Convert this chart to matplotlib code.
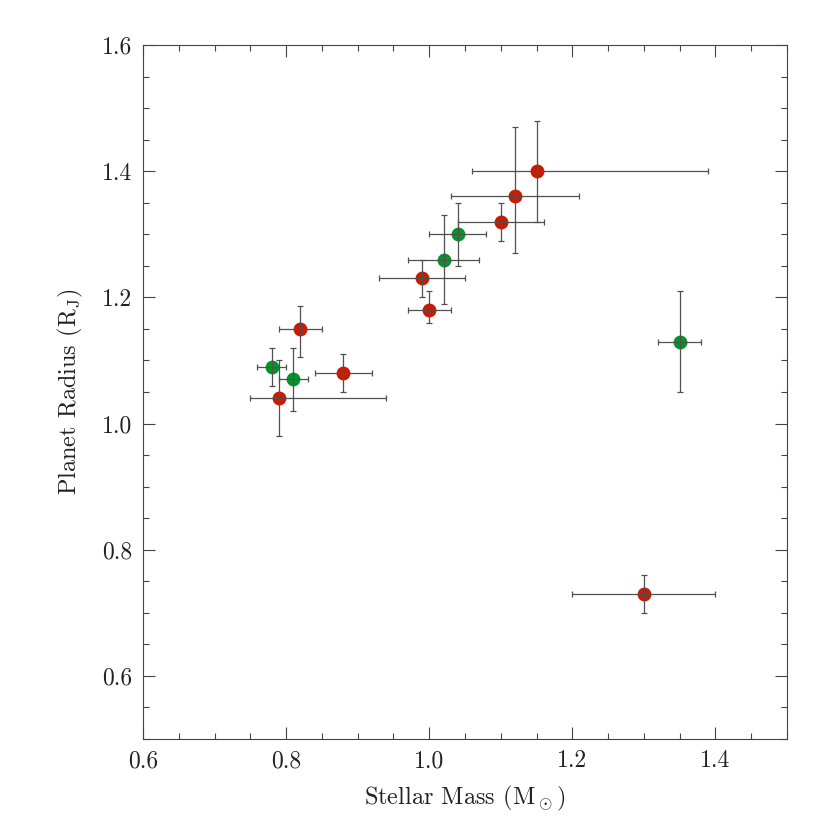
import matplotlib
matplotlib.use("Agg")
import matplotlib.pyplot as plt
from matplotlib.ticker import MultipleLocator

plt.rcParams['font.family'] = ['cmr10', 'DejaVu Serif']
plt.rcParams['mathtext.fontset'] = 'cm'
plt.rcParams['axes.formatter.use_mathtext'] = True
plt.rcParams['axes.unicode_minus'] = False

# Red planets
red_mass = [0.79, 0.82, 0.88, 0.99, 1.00, 1.10, 1.12, 1.15, 1.30]
red_mass_lo = [0.04, 0.03, 0.04, 0.06, 0.03, 0.06, 0.09, 0.09, 0.10]
red_mass_hi = [0.15, 0.03, 0.04, 0.06, 0.03, 0.06, 0.09, 0.24, 0.10]
red_rad = [1.04, 1.15, 1.08, 1.23, 1.18, 1.32, 1.36, 1.40, 0.73]
red_rad_lo = [0.06, 0.045, 0.03, 0.03, 0.02, 0.03, 0.09, 0.08, 0.03]
red_rad_hi = [0.06, 0.037, 0.03, 0.03, 0.03, 0.03, 0.11, 0.08, 0.03]

# Green planets
grn_mass = [0.78, 0.81, 1.02, 1.04, 1.35]
grn_mass_err = [0.02, 0.02, 0.05, 0.04, 0.03]
grn_rad = [1.09, 1.07, 1.26, 1.30, 1.13]
grn_rad_err = [0.03, 0.05, 0.07, 0.05, 0.08]

xticks = [0.6, 0.8, 1.0, 1.2, 1.4]
yticks = [0.6, 0.8, 1.0, 1.2, 1.4, 1.6]

fig = plt.figure(figsize=(8.3, 8.3), dpi=100)
ax = fig.add_axes([0.1723, 0.1096, 0.7759, 0.8362])

red_c = '#CC1A00'
grn_c = '#00952A'
ebc = '#505050'

ax.plot(red_mass, red_rad, 'o', color=red_c, markersize=10, markeredgewidth=0, zorder=2)
ax.plot(grn_mass, grn_rad, 'o', color=grn_c, markersize=10, markeredgewidth=0, zorder=2)
ax.errorbar(red_mass, red_rad, xerr=[red_mass_lo, red_mass_hi], yerr=[red_rad_lo, red_rad_hi],
            fmt='none', ecolor=ebc, elinewidth=0.9, capsize=2.5, capthick=0.9, zorder=3)
ax.errorbar(grn_mass, grn_rad, xerr=grn_mass_err, yerr=grn_rad_err,
            fmt='none', ecolor=ebc, elinewidth=0.9, capsize=2.5, capthick=0.9, zorder=3)

ax.set_xlim(0.6, 1.5)
ax.set_ylim(0.5, 1.6)
ax.set_xticks(xticks)
ax.set_yticks(yticks)
ax.set_xticklabels([f"{v:.1f}" for v in xticks])
ax.set_yticklabels([f"{v:.1f}" for v in yticks])
ax.xaxis.set_minor_locator(MultipleLocator(0.05))
ax.yaxis.set_minor_locator(MultipleLocator(0.05))
ax.tick_params(which='both', direction='in', top=True, right=True, color='#444444', width=0.8)
ax.tick_params(which='major', length=8.5, labelsize=17, pad=8, labelcolor='#222222')
ax.tick_params(which='minor', length=4.3)
for s in ax.spines.values():
    s.set_color('#444444')
    s.set_linewidth(0.8)

ax.set_xlabel(r'Stellar Mass ($\mathrm{M}_\odot$)', fontsize=17.5, color='#222222', labelpad=8)
ax.set_ylabel(r'Planet Radius ($\mathrm{R}_\mathrm{J}$)', fontsize=17.5, color='#222222', labelpad=12)

fig.savefig('out.png', dpi=100)
